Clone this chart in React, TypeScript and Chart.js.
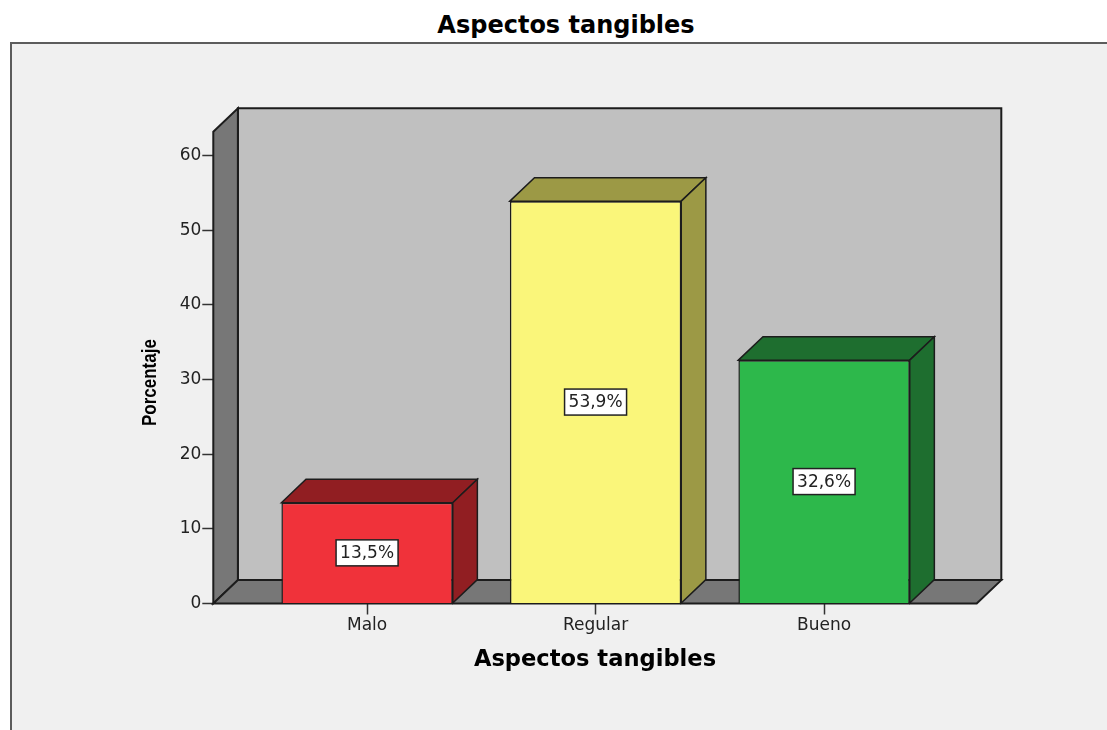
import React, { useEffect, useRef } from "react";
import { Chart, registerables } from "chart.js";

Chart.register(...registerables);

// ---- data ----
const categories = ["Malo", "Regular", "Bueno"];
const percentages = [13.5, 53.9, 32.6];
const frontColors = ["#f0323a", "#faf67a", "#2db84b"];
const shadeColors = ["#911e22", "#9c9945", "#1e6e2f"];
const yTickStep = 10;
const yMax = 63.2;
const chartTitle = "Aspectos tangibles";
const xTitle = "Aspectos tangibles";
const yTitle = "Porcentaje";

const FAMILY = "'DejaVu Sans', sans-serif";
const OUTLINE = "#1c1c1c";
const DX = 24.6;
const DY = -23.4;

function poly(ctx: CanvasRenderingContext2D, pts: number[][], fill: string) {
  ctx.beginPath();
  ctx.moveTo(pts[0][0], pts[0][1]);
  for (let i = 1; i < pts.length; i++) ctx.lineTo(pts[i][0], pts[i][1]);
  ctx.closePath();
  ctx.fillStyle = fill;
  ctx.fill();
  ctx.stroke();
}

const threeD = {
  id: "threeD",
  beforeDatasetsDraw(chart: any) {
    const { ctx, chartArea } = chart;
    const { left, right, top, bottom } = chartArea;
    ctx.save();
    ctx.lineWidth = 2;
    ctx.strokeStyle = OUTLINE;
    ctx.lineJoin = "miter";
    poly(ctx, [[left + DX, top + DY], [right + DX, top + DY], [right + DX, bottom + DY], [left + DX, bottom + DY]], "#c0c0c0");
    poly(ctx, [[left, top], [left + DX, top + DY], [left + DX, bottom + DY], [left, bottom]], "#777777");
    poly(ctx, [[left, bottom], [left + DX, bottom + DY], [right + DX, bottom + DY], [right, bottom]], "#777777");
    ctx.restore();
  },
  afterDatasetsDraw(chart: any) {
    const { ctx } = chart;
    const meta = chart.getDatasetMeta(0);
    ctx.save();
    meta.data.forEach((bar: any, i: number) => {
      const { x, y, base, width } = bar.getProps(["x", "y", "base", "width"], true);
      const L = x - width / 2;
      const R = x + width / 2;
      ctx.lineWidth = 1.5;
      ctx.strokeStyle = OUTLINE;
      poly(ctx, [[L, y], [L + DX, y + DY], [R + DX, y + DY], [R, y]], shadeColors[i]);
      poly(ctx, [[R, y], [R + DX, y + DY], [R + DX, base + DY], [R, base]], shadeColors[i]);
      // value label
      const text = percentages[i].toFixed(1).replace(".", ",") + "%";
      ctx.font = `17px ${FAMILY}`;
      const tw = ctx.measureText(text).width;
      const bw = tw + 8;
      const bh = 26;
      const cy = (y + base) / 2;
      ctx.fillStyle = "#ffffff";
      ctx.fillRect(x - bw / 2, cy - bh / 2, bw, bh);
      ctx.lineWidth = 1.5;
      ctx.strokeStyle = "#222";
      ctx.strokeRect(x - bw / 2, cy - bh / 2, bw, bh);
      ctx.fillStyle = "#222";
      ctx.textAlign = "center";
      ctx.textBaseline = "middle";
      ctx.fillText(text, x, cy + 1);
    });
    ctx.restore();
  },
  afterDraw(chart: any) {
    const { ctx, chartArea } = chart;
    ctx.save();
    ctx.translate(chartArea.left - 57, (chartArea.top + chartArea.bottom) / 2 + 15);
    ctx.rotate(-Math.PI / 2);
    ctx.scale(1, 1.2);
    ctx.font = `bold 17px 'Liberation Sans', Arial, sans-serif`;
    ctx.fillStyle = "#000";
    ctx.textAlign = "center";
    ctx.textBaseline = "alphabetic";
    ctx.fillText(yTitle, 0, 0);
    ctx.restore();
  },
};

export default function App() {
  const ref = useRef<HTMLCanvasElement>(null);
  useEffect(() => {
    if (!ref.current) return;
    const chart = new Chart(ref.current, {
      type: "bar",
      data: {
        datasets: [
          {
            data: percentages.map((v, i) => ({ x: i, y: v })),
            backgroundColor: frontColors,
            borderColor: OUTLINE,
            borderWidth: 1.5,
            barPercentage: 0.75,
            categoryPercentage: 1,
          },
        ],
      },
      options: {
        responsive: false,
        animation: false,
        devicePixelRatio: 1,
        layout: { padding: { left: 0, top: 131.7, right: 130.3, bottom: 0 } },
        plugins: {
          legend: { display: false },
          tooltip: { enabled: false },
          title: { display: false },
        },
        scales: {
          x: {
            type: "linear",
            min: -0.673,
            max: 2.668,
            offset: false,
            afterBuildTicks: (s: any) => {
              s.ticks = categories.map((_, i) => ({ value: i }));
            },
            afterFit: (s: any) => {
              s.height = 126.5;
            },
            grid: {
              offset: false,
              drawOnChartArea: false,
              drawTicks: true,
              tickLength: 11,
              tickWidth: 1.5,
              tickColor: "#333",
            },
            border: { display: false },
            ticks: {
              autoSkip: false,
              maxRotation: 0,
              padding: 1,
              color: "#222",
              font: { size: 17, family: FAMILY },
              callback: (v: any) => categories[v] ?? "",
            },
            title: {
              display: true,
              text: xTitle,
              color: "#000",
              font: { size: 22.6, weight: "bold", family: FAMILY },
              padding: { top: 0, bottom: 56 },
            },
          },
          y: {
            min: 0,
            max: yMax,
            afterFit: (s: any) => {
              s.width = 213.3;
            },
            grid: {
              drawOnChartArea: false,
              drawTicks: true,
              tickLength: 11,
              tickWidth: 1.5,
              tickColor: "#333",
            },
            border: { display: false },
            ticks: {
              stepSize: yTickStep,
              includeBounds: false,
              padding: 1,
              color: "#222",
              font: { size: 17, family: FAMILY },
            },
          },
        },
      },
      plugins: [threeD],
    } as any);
    return () => chart.destroy();
  }, []);

  return (
    <div
      style={{
        position: "absolute",
        left: 0,
        top: 0,
        width: 1107,
        height: 730,
        overflow: "hidden",
        background: "#ffffff",
      }}
    >
      <div
        style={{
          position: "absolute",
          left: 10,
          top: 42,
          width: 1120,
          height: 720,
          background: "#f0f0f0",
          borderLeft: "2px solid #5c5c5c",
          borderTop: "2px solid #5c5c5c",
        }}
      />
      <div
        style={{
          position: "absolute",
          left: 0,
          top: 13,
          width: 1132,
          textAlign: "center",
          font: `bold 24px ${FAMILY}`,
          lineHeight: "24px",
          color: "#000",
        }}
      >
        {chartTitle}
      </div>
      <canvas
        ref={ref}
        width={1107}
        height={730}
        style={{ position: "absolute", left: 0, top: 0 }}
      />
    </div>
  );
}
